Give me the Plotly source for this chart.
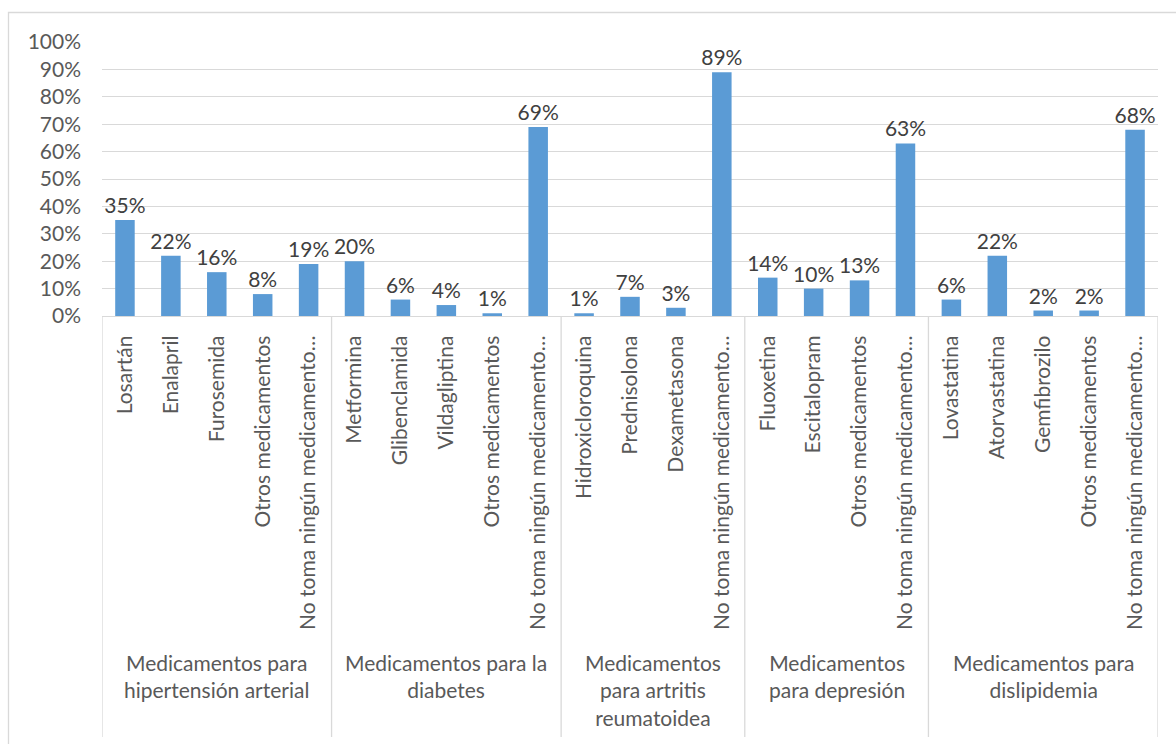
import plotly.graph_objects as go

# Grouped categories (outer level) and the medicines in each group (inner level)
groups = [
    "Medicamentos para<br>hipertensión arterial",
    "Medicamentos para la<br>diabetes",
    "Medicamentos<br>para artritis<br>reumatoidea",
    "Medicamentos<br>para depresión",
    "Medicamentos para<br>dislipidemia",
]
medicines = [
    ["Losartán", "Enalapril", "Furosemida", "Otros medicamentos", "No toma ningún medicamento…"],
    ["Metformina", "Glibenclamida", "Vildagliptina", "Otros medicamentos", "No toma ningún medicamento…"],
    ["Hidroxicloroquina", "Prednisolona", "Dexametasona", "No toma ningún medicamento…"],
    ["Fluoxetina", "Escitalopram", "Otros medicamentos", "No toma ningún medicamento…"],
    ["Lovastatina", "Atorvastatina", "Gemfibrozilo", "Otros medicamentos", "No toma ningún medicamento…"],
]
shares = [
    [0.35, 0.22, 0.16, 0.08, 0.19],
    [0.20, 0.06, 0.04, 0.01, 0.69],
    [0.01, 0.07, 0.03, 0.89],
    [0.14, 0.10, 0.13, 0.63],
    [0.06, 0.22, 0.02, 0.02, 0.68],
]

# Repeated medicine names are kept apart on the category axis with a
# trailing zero-width space per group, so every bar gets its own slot.
labels = [m + "\u200b" * gi for gi, meds in enumerate(medicines) for m in meds]
values = [v for vals in shares for v in vals]

W, H = 1176, 744
ML, MR, MT, MB = 102, 18, 42, 428
FONT = "Lato"
FS = 21
GRID = "#d9d9d9"

pw = W - ML - MR
ph = H - MT - MB


def py(pixel_y):
    """Vertical pixel position -> paper coordinate."""
    return (H - MB - pixel_y) / ph


def px(pixel_x):
    """Horizontal pixel position -> paper coordinate."""
    return (pixel_x - ML) / pw


fig = go.Figure(
    go.Bar(
        x=labels,
        y=values,
        marker=dict(color="#5b9bd5", line=dict(width=0)),
        width=0.425,
        texttemplate="%{y:.0%}",
        textposition="outside",
        constraintext="none",
        textfont=dict(family=FONT, size=FS, color="#404040"),
        cliponaxis=False,
        hoverinfo="skip",
    )
)

# Group separators and group titles under the medicine names
start = 0
edges = [-0.5]
for g, meds in zip(groups, medicines):
    n = len(meds)
    centre = start + (n - 1) / 2
    fig.add_annotation(
        x=centre, xref="x", y=py(648), yref="paper",
        text=g, showarrow=False, xanchor="center", yanchor="top",
        align="center", font=dict(family=FONT, size=FS, color="#595959"),
    )
    start += n
    edges.append(start - 0.5)

for e in edges:
    fig.add_shape(
        type="line", xref="x", yref="paper",
        x0=e, x1=e, y0=0, y1=py(737),
        line=dict(color=GRID, width=1.3),
    )

# Chart frame (runs past the bottom and right edges of the page)
fig.add_shape(
    type="rect", xref="paper", yref="paper",
    x0=px(8.5), x1=px(1190), y0=py(760), y1=py(12.5),
    line=dict(color=GRID, width=1.3), fillcolor="rgba(0,0,0,0)",
    layer="below",
)

fig.update_layout(
    width=W, height=H,
    margin=dict(l=ML, r=MR, t=MT, b=MB, pad=0),
    paper_bgcolor="white", plot_bgcolor="white",
    font=dict(family=FONT, size=FS, color="#595959"),
    showlegend=False,
    bargap=0.575,
    xaxis=dict(
        type="category",
        tickangle=-90,
        showline=True, linecolor=GRID, linewidth=1.3,
        ticks="", showgrid=False,
        ticklabelstandoff=10,
        tickfont=dict(family=FONT, size=FS, color="#595959"),
        range=[-0.5, len(labels) - 0.5],
    ),
    yaxis=dict(
        range=[0, 1], dtick=0.1, tickformat=".0%",
        showgrid=True, gridcolor=GRID, gridwidth=1.3,
        zeroline=False, showline=False, ticks="",
        ticklabelstandoff=20,
        tickfont=dict(family=FONT, size=FS, color="#595959"),
    ),
)

fig.write_html("out.html")
